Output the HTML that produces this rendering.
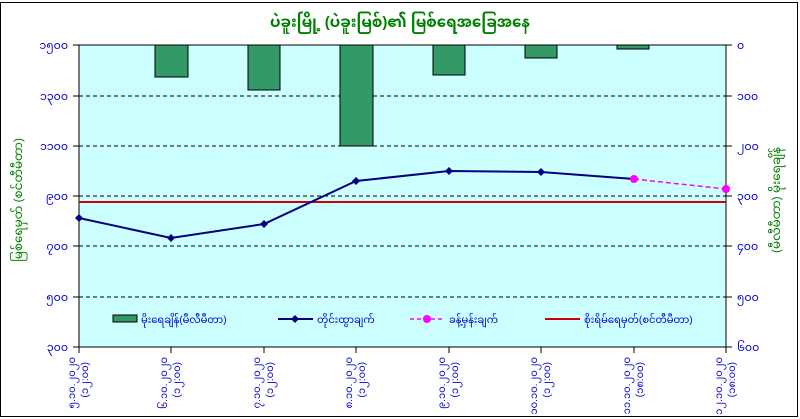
<!DOCTYPE html>
<html><head><meta charset="utf-8"><style>
body{margin:0;background:#fff;}
svg{display:block;font-family:"Liberation Sans","Noto Sans Myanmar","Padauk",sans-serif;}
</style></head><body>
<svg width="800" height="419" xmlns="http://www.w3.org/2000/svg">
<rect x="0.5" y="2.5" width="797" height="414" fill="#fff" stroke="#000"/>
<text x="400" y="27" font-size="15" font-weight="bold" fill="#008000" text-anchor="middle">ပဲခူးမြို့ (ပဲခူးမြစ်)၏ မြစ်ရေအခြေအနေ</text>
<rect x="79" y="45" width="647" height="302" fill="#ccffff" stroke="#000"/>
<g stroke="#000" stroke-dasharray="4,3" stroke-width="1">
<line x1="79" y1="96" x2="726" y2="96"/><line x1="79" y1="146" x2="726" y2="146"/>
<line x1="79" y1="196" x2="726" y2="196"/><line x1="79" y1="246" x2="726" y2="246"/>
<line x1="79" y1="297" x2="726" y2="297"/>
</g>
<g fill="#339966" stroke="#000">
<rect x="155" y="45" width="33" height="32"/><rect x="248" y="45" width="32" height="45"/>
<rect x="340" y="45" width="33" height="101"/><rect x="433" y="45" width="32" height="30"/>
<rect x="525" y="45" width="32" height="13"/><rect x="617" y="45" width="32" height="4"/>
</g>
<line x1="79" y1="202" x2="726" y2="202" stroke="#cc0000" stroke-width="2"/>
<polyline points="79,218 171,238 264,224 356,181 449,171 541,172 634,179" fill="none" stroke="#000080" stroke-width="2"/>
<g fill="#000080">
<path d="M79 214l4 4-4 4-4-4z"/><path d="M171 234l4 4-4 4-4-4z"/><path d="M264 220l4 4-4 4-4-4z"/>
<path d="M356 177l4 4-4 4-4-4z"/><path d="M449 167l4 4-4 4-4-4z"/><path d="M541 168l4 4-4 4-4-4z"/>
</g>
<line x1="634" y1="179" x2="726" y2="189" stroke="#ff00ff" stroke-width="1.5" stroke-dasharray="5,3"/>
<circle cx="634" cy="179" r="4" fill="#ff00ff"/><circle cx="726" cy="189" r="4" fill="#ff00ff"/>
<g stroke="#000"><line x1="73" y1="45" x2="79" y2="45"/><line x1="73" y1="96" x2="79" y2="96"/><line x1="73" y1="146" x2="79" y2="146"/><line x1="73" y1="196" x2="79" y2="196"/><line x1="73" y1="246" x2="79" y2="246"/><line x1="73" y1="297" x2="79" y2="297"/><line x1="73" y1="347" x2="79" y2="347"/>
<line x1="726" y1="45" x2="732" y2="45"/><line x1="726" y1="96" x2="732" y2="96"/><line x1="726" y1="146" x2="732" y2="146"/><line x1="726" y1="196" x2="732" y2="196"/><line x1="726" y1="246" x2="732" y2="246"/><line x1="726" y1="297" x2="732" y2="297"/><line x1="726" y1="347" x2="732" y2="347"/>
<line x1="171" y1="347" x2="171" y2="353"/><line x1="264" y1="347" x2="264" y2="353"/><line x1="356" y1="347" x2="356" y2="353"/><line x1="449" y1="347" x2="449" y2="353"/><line x1="541" y1="347" x2="541" y2="353"/><line x1="634" y1="347" x2="634" y2="353"/><line x1="79" y1="347" x2="79" y2="353"/><line x1="726" y1="347" x2="726" y2="353"/></g>
<g font-size="11" fill="#0000cc" text-anchor="end">
<text x="68" y="49">၁၅၀၀</text><text x="68" y="100">၁၃၀၀</text><text x="68" y="150">၁၁၀၀</text><text x="68" y="200">၉၀၀</text><text x="68" y="250">၇၀၀</text><text x="68" y="301">၅၀၀</text><text x="68" y="351">၃၀၀</text>
</g>
<g font-size="11" fill="#0000cc">
<text x="737" y="49">၀</text><text x="737" y="100">၁၀၀</text><text x="737" y="150">၂၀၀</text><text x="737" y="200">၃၀၀</text><text x="737" y="250">၄၀၀</text><text x="737" y="301">၅၀၀</text><text x="737" y="351">၆၀၀</text>
</g>
<text transform="translate(22,200) rotate(-90)" font-size="12" fill="#008000" text-anchor="middle">မြစ်ရေမှတ် (စင်တီမီတာ)</text>
<text transform="translate(780,200) rotate(-90)" font-size="12" fill="#008000" text-anchor="middle">(မီလီမီတာ) မိုးရေချိန်</text>
<g font-size="10" fill="#0000cc" text-anchor="end">
<text transform="translate(75,357) rotate(-90)">၅.၁၀.၂၀၂၀</text><text transform="translate(88,362) rotate(-90)">(၁၂:၀၀)</text>
<text transform="translate(167,357) rotate(-90)">၆.၁၀.၂၀၂၀</text><text transform="translate(180,362) rotate(-90)">(၁၂:၀၀)</text>
<text transform="translate(260,357) rotate(-90)">၇.၁၀.၂၀၂၀</text><text transform="translate(273,362) rotate(-90)">(၁၂:၀၀)</text>
<text transform="translate(352,357) rotate(-90)">၈.၁၀.၂၀၂၀</text><text transform="translate(365,362) rotate(-90)">(၁၂:၀၀)</text>
<text transform="translate(445,357) rotate(-90)">၉.၁၀.၂၀၂၀</text><text transform="translate(458,362) rotate(-90)">(၁၂:၀၀)</text>
<text transform="translate(537,357) rotate(-90)">၁၀.၁၀.၂၀၂၀</text><text transform="translate(550,362) rotate(-90)">(၁၂:၀၀)</text>
<text transform="translate(630,357) rotate(-90)">၁၁.၁၀.၂၀၂၀</text><text transform="translate(643,362) rotate(-90)">(၁၈:၀၀)</text>
<text transform="translate(722,357) rotate(-90)">၁၂.၁၀.၂၀၂၀</text><text transform="translate(735,362) rotate(-90)">(၁၈:၀၀)</text>
</g>
<rect x="113" y="315" width="24" height="7" fill="#339966" stroke="#000"/>
<text x="141" y="323" font-size="10" fill="#0000cc">မိုးရေချိန်(မီလီမီတာ)</text>
<line x1="278" y1="319" x2="313" y2="319" stroke="#000080" stroke-width="2"/><path d="M295 315l4 4-4 4-4-4z" fill="#000080"/>
<text x="317" y="323" font-size="10" fill="#0000cc">တိုင်းထွာချက်</text>
<line x1="410" y1="319" x2="445" y2="319" stroke="#ff00ff" stroke-width="1.5" stroke-dasharray="4,3"/><circle cx="427" cy="319" r="4" fill="#ff00ff"/>
<text x="449" y="323" font-size="10" fill="#0000cc">ခန့်မှန်းချက်</text>
<line x1="545" y1="319" x2="580" y2="319" stroke="#cc0000" stroke-width="2"/>
<text x="584" y="323" font-size="10" fill="#0000cc">စိုးရိမ်ရေမှတ်(စင်တီမီတာ)</text>
</svg>
</body></html>
